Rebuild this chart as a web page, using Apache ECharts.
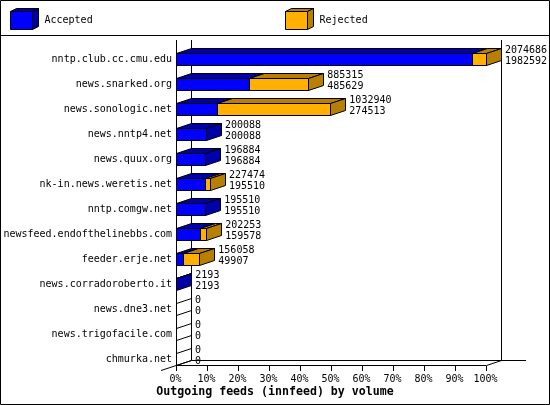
<!DOCTYPE html>
<html><head><meta charset="utf-8">
<style>html,body{margin:0;padding:0;background:#fff}#c{width:550px;height:405px}</style>
<script src="https://cdn.jsdelivr.net/npm/echarts@6/dist/echarts.min.js"></script></head>
<body><div id="c"></div>
<script>
const categories = ['nntp.club.cc.cmu.edu','news.snarked.org','news.sonologic.net','news.nntp4.net','news.quux.org','nk-in.news.weretis.net','nntp.comgw.net','newsfeed.endofthelinebbs.com','feeder.erje.net','news.corradoroberto.it','news.dne3.net','news.trigofacile.com','chmurka.net'];
const totals = [2074686,885315,1032940,200088,196884,227474,195510,202253,156058,2193,0,0,0];
const accepted = [1982592,485629,274513,200088,196884,195510,195510,159578,49907,2193,0,0,0];
const tickFormat = '{value}%';
const title = 'Outgoing feeds (innfeed) by volume';
const seriesNames = ['Accepted','Rejected'];
const BLUE='#0000ff', DBLUE='#0000a8', ORANGE='#ffb000', DORANGE='#b88000';
const MONO='"DejaVu Sans Mono","Liberation Mono",monospace';
const maxV = Math.max(...totals);
const pct = v => v/maxV*100;
const DX=15, DY=5, LINE={stroke:'#000',lineWidth:1};
const snap = v => Math.round(v-0.5)+0.5;

function poly(points, fill){
  return {type:'polygon',shape:{points},style:{fill:fill,stroke:'#000',lineWidth:1}};
}
function box(x0,x1,c,front,dark,endSide){
  const t=c-6,b=c+6,ch=[];
  ch.push(poly([[x0,t],[x0+DX,t-DY],[x1+DX,t-DY],[x1,t]],dark));
  if(endSide) ch.push(poly([[x1,t],[x1+DX,t-DY],[x1+DX,b-DY],[x1,b]],dark));
  if(x1>x0) ch.push(poly([[x0,t],[x1,t],[x1,b],[x0,b]],front));
  return {type:'group',children:ch};
}
function renderAccepted(params,api){
  const i=api.value(0), a=api.value(1), tot=api.value(2);
  const c=api.coord([0,i])[1];
  const x0=api.coord([0,i])[0], x1=snap(api.coord([a,i])[0]);
  if(a===0){
    return {type:'polygon',shape:{points:[[x0,c-6],[x0+DX,c-6-DY],[x0+DX,c+6-DY],[x0,c+6]]},style:{fill:'none',stroke:'#000',lineWidth:1}};
  }
  return box(x0,x1,c,BLUE,DBLUE,a>=tot);
}
function renderRejected(params,api){
  const i=api.value(0), a=api.value(1), tot=api.value(2);
  if(tot<=a) return null;
  const c=api.coord([0,i])[1];
  return box(snap(api.coord([a,i])[0]),snap(api.coord([tot,i])[0]),c,ORANGE,DORANGE,true);
}
function renderLabel(params,api){
  const i=api.value(0), p=api.value(1);
  const pt=api.coord([p,i]);
  const x=pt[0]+DX+3.5, idx=params.dataIndex;
  return {type:'group',children:[
    {type:'text',style:{x,y:pt[1]-9.5,text:String(totals[idx]),font:'10px '+MONO,fill:'#000',textVerticalAlign:'middle'}},
    {type:'text',style:{x,y:pt[1]+1.5,text:String(accepted[idx]),font:'10px '+MONO,fill:'#000',textVerticalAlign:'middle'}}
  ]};
}
function legendBox(x,y,front,dark,name){
  return [
    {type:'polygon',shape:{points:[[x,y],[x+6,y-3],[x+28,y-3],[x+22,y]]},style:{fill:dark,stroke:'#000',lineWidth:1}},
    {type:'polygon',shape:{points:[[x+22,y],[x+28,y-3],[x+28,y+15],[x+22,y+18]]},style:{fill:dark,stroke:'#000',lineWidth:1}},
    {type:'rect',shape:{x,y,width:22,height:18},style:{fill:front,stroke:'#000',lineWidth:1}},
    {type:'text',style:{x:x+34,y:y+9,text:name,font:'10px '+MONO,fill:'#000',textVerticalAlign:'middle'}}
  ];
}
const line=(x1,y1,x2,y2)=>({type:'line',shape:{x1,y1,x2,y2},style:LINE,z:1});
const chart=echarts.init(document.getElementById('c'),null,{renderer:'canvas'});
const rows=categories.map((n,i)=>i);
chart.setOption({
  animation:false,
  backgroundColor:'#fff',
  title:{text:title,left:'center',top:386,padding:0,itemGap:0,textStyle:{fontFamily:MONO,fontWeight:'bold',fontSize:11.6,color:'#000'}},
  grid:{left:176.5,width:310,top:47,height:325},
  xAxis:{type:'value',min:0,max:100,interval:10,offset:-1,
    axisLine:{show:false},splitLine:{show:false},
    axisTick:{show:true,inside:true,length:5,lineStyle:{color:'#000',width:1}},
    axisLabel:{formatter:tickFormat,color:'#000',fontFamily:MONO,fontSize:10,margin:3,padding:[0,2,0,0],hideOverlap:false,showMinLabel:true,showMaxLabel:true}},
  yAxis:{type:'category',inverse:true,data:categories,
    axisLine:{show:false},axisTick:{show:false},splitLine:{show:false},
    axisLabel:{color:'#000',fontFamily:MONO,fontSize:10,margin:4.5,interval:0,padding:[2,0,0,0]}},
  graphic:[
    {type:'rect',shape:{x:0.5,y:0.5,width:549,height:404},style:{fill:'none',stroke:'#000',lineWidth:1},z:0},
    line(0,35.5,550,35.5),
    line(176.5,40,176.5,365.5),
    line(191.5,40,191.5,360.5),
    line(501.5,40,501.5,360.5),
    line(176.5,365.5,486.5,365.5),
    line(191.5,360.5,526,360.5),
    line(161,370.5,191.5,360.5),
    line(486.5,365.5,501.5,360.5),
    ...legendBox(10.5,11.5,BLUE,DBLUE,seriesNames[0]),
    ...legendBox(285.5,11.5,ORANGE,DORANGE,seriesNames[1])
  ],
  series:[
    {name:seriesNames[0],type:'custom',z:3,clip:false,renderItem:renderAccepted,encode:{x:1,y:0},
      data:rows.map(i=>[i,pct(accepted[i]),pct(totals[i])])},
    {name:seriesNames[1],type:'custom',z:4,clip:false,renderItem:renderRejected,encode:{x:2,y:0},
      data:rows.map(i=>[i,pct(accepted[i]),pct(totals[i])])},
    {name:'values',type:'custom',z:5,clip:false,renderItem:renderLabel,encode:{x:1,y:0},
      data:rows.map(i=>[i,pct(totals[i])])}
  ]
});
</script></body></html>
